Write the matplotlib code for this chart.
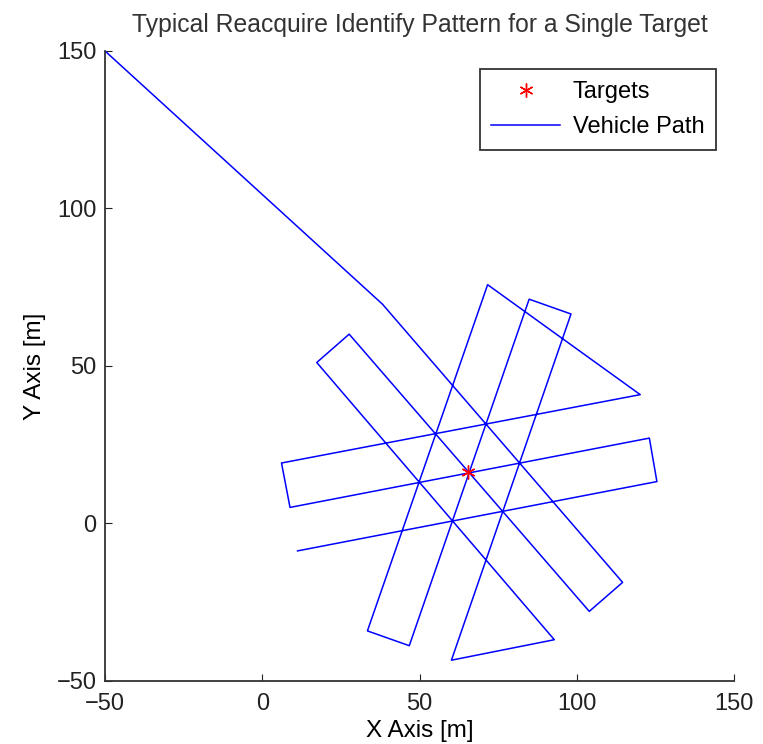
import numpy as np
import matplotlib
matplotlib.use("Agg")
import matplotlib.pyplot as plt

plt.rcParams['font.family'] = ['Liberation Sans', 'DejaVu Sans']

# target location
target_x = [65.4]
target_y = [16.2]

# vehicle path waypoints
path_x = [-50, 38.2, 114.5, 103.9, 27.6, 17.3, 92.8, 60.1, 98.1, 84.8,
          46.7, 33.4, 71.6, 120.1, 6.1, 8.8, 123.0, 125.4, 11.2]
path_y = [150, 69.6, -18.7, -27.9, 60.1, 51.1, -36.9, -43.4, 66.5, 71.2,
          -38.8, -34.1, 75.8, 40.9, 19.2, 5.1, 27.1, 13.3, -8.7]

x_ticks = [-50, 0, 50, 100, 150]
y_ticks = [-50, 0, 50, 100, 150]

fig = plt.figure(figsize=(7.63, 7.44), dpi=100)
ax = fig.add_axes([0.1376, 0.0847, 0.8248, 0.8468])

ax.plot(target_x, target_y, linestyle='none', marker=(6, 2, 0), color='red',
        markersize=10, markeredgewidth=1.0, label='Targets', zorder=3)
ax.plot(path_x, path_y, color='blue', linewidth=1.1, label='Vehicle Path')

ax.set_xlim(-50, 150)
ax.set_ylim(-50, 150)
ax.set_xticks(x_ticks)
ax.set_yticks(y_ticks)
ax.tick_params(direction='in', length=5, labelsize=17, colors='#222222')
ax.tick_params(axis='x', pad=9)
ax.tick_params(axis='y', pad=6)

for s in ['top', 'right']:
    ax.spines[s].set_visible(False)
for s in ['left', 'bottom']:
    ax.spines[s].set_color('#333333')
    ax.spines[s].set_linewidth(1.3)

ax.set_title('Typical Reacquire Identify Pattern for a Single Target',
             fontsize=17.8, pad=14, color='#333333')
ax.set_xlabel('X Axis [m]', fontsize=17.5, labelpad=3)
ax.set_ylabel('Y Axis [m]', fontsize=17.5, labelpad=8)

leg = ax.legend(loc='upper right', bbox_to_anchor=(0.99, 0.99), fontsize=17,
                frameon=True, fancybox=False, handlelength=2.9,
                borderpad=0.5, labelspacing=0.55, handletextpad=0.55)
leg.get_frame().set_edgecolor('black')
leg.get_frame().set_linewidth(1.3)

fig.savefig('out.png', dpi=100)
